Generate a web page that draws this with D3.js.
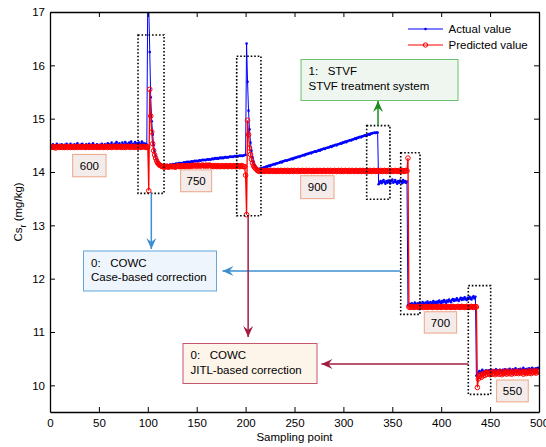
<!DOCTYPE html>
<html><head><meta charset="utf-8">
<script src="https://cdn.jsdelivr.net/npm/d3@7"></script>
<style>
body{margin:0;background:#fff}
text{font-family:Arial,"Liberation Sans",sans-serif;fill:#000}
</style>
</head><body>
<svg id="chart" width="546" height="447"></svg>
<script>
// ---------- DATA ----------
const xTicks = [0,50,100,150,200,250,300,350,400,450,500];
const yTicks = [10,11,12,13,14,15,16,17];
const seriesNames = ["Actual value","Predicted value"];
const levelLabels = ["600","750","900","700","550"];
const annotationTexts = [
  ["1:\u00a0\u00a0 STVF","STVF treatment system"],
  ["0:\u00a0\u00a0 COWC","Case-based correction"],
  ["0:\u00a0\u00a0 COWC","JITL-based correction"]
];

// sampling points 1..500
const actual = [
14.49,14.46,14.52,14.44,14.50,14.47,14.53,14.45,14.49,14.51,
14.46,14.52,14.48,14.44,14.51,14.47,14.53,14.49,14.45,14.50,
14.53,14.47,14.44,14.50,14.52,14.46,14.49,14.54,14.47,14.45,
14.51,14.48,14.53,14.46,14.50,14.44,14.52,14.49,14.47,14.53,
14.48,14.45,14.51,14.54,14.47,14.50,14.46,14.52,14.49,14.45,
14.51,14.47,14.53,14.48,14.45,14.52,14.50,14.47,14.54,14.49,
14.52,14.48,14.55,14.50,14.47,14.53,14.51,14.56,14.49,14.52,
14.54,14.50,14.47,14.55,14.52,14.49,14.56,14.51,14.53,14.48,
14.55,14.52,14.57,14.50,14.53,14.49,14.56,14.52,14.54,14.51,
14.55,14.50,14.53,14.57,14.51,14.54,14.49,14.53,14.51,
17.40,17.10,16.25,15.40,14.95,14.70,14.50,14.38,14.30,14.24,14.19,14.15,14.13,14.12,14.11,14.10,
14.11,14.12,14.11,14.12,14.13,14.12,14.13,14.14,14.13,14.14,
14.15,14.14,14.15,14.16,14.15,14.16,14.17,14.16,14.17,14.16,
14.17,14.18,14.17,14.18,14.19,14.18,14.19,14.18,14.19,14.20,
14.19,14.20,14.21,14.20,14.21,14.20,14.21,14.22,14.21,14.22,
14.23,14.22,14.23,14.22,14.23,14.24,14.23,14.24,14.23,14.24,
14.25,14.24,14.25,14.26,14.25,14.26,14.25,14.26,14.27,14.26,
14.27,14.26,14.27,14.28,14.27,14.28,14.27,14.28,14.29,14.28,
14.29,14.28,14.29,14.30,14.29,14.30,14.29,14.30,14.31,14.30,
14.31,14.30,14.31,14.32,
14.32,16.41,15.69,15.15,14.80,14.55,14.40,14.28,14.20,14.14,14.10,14.07,14.05,
14.05,14.06,14.06,14.07,14.07,14.08,14.09,14.09,14.10,14.10,
14.11,14.12,14.11,14.13,14.13,14.14,14.15,14.14,14.16,14.16,
14.17,14.17,14.18,14.19,14.18,14.20,14.20,14.21,14.22,14.21,
14.22,14.23,14.23,14.24,14.25,14.24,14.26,14.26,14.27,14.27,
14.28,14.29,14.28,14.30,14.30,14.31,14.32,14.31,14.33,14.33,
14.34,14.34,14.35,14.36,14.35,14.37,14.37,14.38,14.39,14.38,
14.39,14.40,14.41,14.40,14.42,14.42,14.43,14.44,14.43,14.45,
14.45,14.46,14.46,14.47,14.48,14.47,14.49,14.49,14.50,14.51,
14.50,14.52,14.52,14.53,14.54,14.53,14.55,14.55,14.56,14.57,
14.56,14.58,14.58,14.59,14.60,14.59,14.61,14.61,14.62,14.63,
14.62,14.64,14.64,14.65,14.66,14.65,14.67,14.67,14.68,14.69,
14.68,14.69,14.70,14.71,14.70,14.72,14.72,14.73,14.73,14.74,
14.73,14.74,14.74,
13.77,13.80,13.83,13.79,13.82,13.85,13.81,13.78,13.83,13.80,
13.84,13.81,13.79,13.83,13.86,13.80,13.82,13.85,13.81,13.78,
13.83,13.80,13.84,13.82,13.79,13.85,13.81,13.83,13.80,13.82,
11.50,
11.50,11.53,11.51,11.54,11.52,11.50,11.55,11.53,11.51,11.54,
11.52,11.55,11.53,11.51,11.56,11.54,11.52,11.55,11.53,11.57,
11.54,11.52,11.56,11.53,11.55,11.58,11.54,11.56,11.53,11.57,
11.55,11.59,11.56,11.54,11.58,11.56,11.60,11.57,11.55,11.59,
11.57,11.61,11.58,11.56,11.60,11.62,11.58,11.61,11.59,11.63,
11.60,11.58,11.62,11.64,11.60,11.63,11.61,11.65,11.62,11.60,
11.64,11.62,11.66,11.63,11.61,11.65,11.67,11.63,11.66,
10.18,
10.20,10.24,10.27,10.23,10.26,10.29,10.24,10.27,10.25,10.28,
10.26,10.23,10.28,10.25,10.29,10.26,10.24,10.28,10.27,10.30,
10.25,10.28,10.26,10.29,10.27,10.24,10.29,10.26,10.30,10.28,
10.26,10.29,10.27,10.31,10.28,10.25,10.30,10.27,10.29,10.32,
10.28,10.26,10.30,10.28,10.31,10.27,10.29,10.33,10.28,10.30,
10.27,10.31,10.29,10.32,10.28,10.30,10.33,10.29,10.31,10.28,
10.32,10.30,10.33,10.31
];

const predicted = [
14.46,14.47,14.48,14.46,14.47,14.45,14.47,14.48,14.47,14.46,
14.47,14.48,14.46,14.47,14.46,14.48,14.47,14.46,14.48,14.47,
14.46,14.47,14.48,14.47,14.46,14.47,14.48,14.46,14.47,14.47,
14.48,14.46,14.47,14.48,14.47,14.46,14.47,14.48,14.47,14.46,
14.47,14.48,14.47,14.46,14.48,14.47,14.47,14.46,14.48,14.47,
14.46,14.48,14.47,14.47,14.46,14.48,14.47,14.48,14.46,14.47,
14.48,14.47,14.46,14.48,14.47,14.48,14.47,14.46,14.48,14.47,
14.47,14.48,14.46,14.47,14.48,14.47,14.46,14.48,14.47,14.48,
14.47,14.46,14.48,14.47,14.48,14.46,14.47,14.48,14.47,14.46,
14.48,14.47,14.46,14.48,14.47,14.48,14.47,14.46,14.47,
14.47,13.65,15.55,15.05,14.75,14.53,14.40,14.32,14.26,14.21,14.17,14.15,14.13,14.12,14.11,14.10,
14.10,14.09,14.10,14.11,14.10,14.09,14.10,14.11,14.10,14.10,
14.11,14.10,14.09,14.10,14.11,14.12,14.10,14.11,14.10,14.11,
14.12,14.11,14.10,14.11,14.12,14.11,14.10,14.12,14.11,14.12,
14.11,14.12,14.13,14.11,14.12,14.11,14.13,14.12,14.11,14.12,
14.13,14.12,14.11,14.12,14.13,14.11,14.12,14.13,14.12,14.11,
14.12,14.10,14.11,14.12,14.11,14.10,14.12,14.11,14.10,14.11,
14.12,14.11,14.10,14.11,14.12,14.11,14.10,14.11,14.12,14.11,
14.10,14.11,14.12,14.11,14.10,14.11,14.12,14.11,14.10,14.11,
14.12,14.11,14.10,
14.10,13.94,13.20,14.97,14.70,14.45,14.33,14.24,14.17,14.12,14.09,14.07,14.05,
14.03,14.02,14.01,14.03,14.02,14.01,14.02,14.03,14.01,14.02,
14.03,14.02,14.01,14.02,14.03,14.02,14.01,14.03,14.02,14.01,
14.02,14.03,14.01,14.02,14.03,14.02,14.01,14.02,14.03,14.02,
14.01,14.03,14.02,14.01,14.02,14.03,14.02,14.01,14.03,14.02,
14.02,14.01,14.03,14.02,14.01,14.02,14.03,14.02,14.01,14.02,
14.03,14.01,14.02,14.03,14.02,14.01,14.02,14.03,14.01,14.02,
14.02,14.03,14.01,14.02,14.03,14.02,14.01,14.02,14.03,14.02,
14.01,14.02,14.03,14.02,14.01,14.03,14.02,14.01,14.02,14.03,
14.02,14.01,14.02,14.03,14.02,14.01,14.03,14.02,14.01,14.02,
14.03,14.02,14.01,14.02,14.03,14.01,14.02,14.03,14.02,14.01,
14.02,14.03,14.02,14.01,14.02,14.03,14.01,14.02,14.03,14.02,
14.01,14.02,14.03,14.02,14.01,14.03,14.02,14.01,14.02,14.03,
14.02,14.01,14.02,14.03,14.02,14.01,14.03,14.02,14.01,14.02,
14.03,14.02,14.01,14.02,14.03,14.02,14.01,14.03,14.02,14.01,
14.02,14.03,14.02,14.01,14.02,14.03,14.01,14.02,14.03,14.02,
14.01,14.02,14.03,14.02,
14.26,
11.47,11.46,11.47,11.48,11.47,11.46,11.47,11.47,11.48,11.47,
11.46,11.47,11.48,11.47,11.47,11.46,11.47,11.48,11.47,11.46,
11.47,11.47,11.48,11.47,11.46,11.47,11.48,11.47,11.47,11.46,
11.47,11.48,11.47,11.46,11.47,11.47,11.48,11.47,11.46,11.47,
11.48,11.47,11.47,11.46,11.47,11.48,11.47,11.46,11.47,11.47,
11.48,11.47,11.46,11.47,11.48,11.47,11.47,11.46,11.47,11.48,
11.47,11.46,11.47,11.47,11.48,11.47,11.46,11.47,11.48,11.47,
9.96,
10.12,10.17,10.20,10.15,10.21,10.18,10.23,10.19,10.24,10.21,
10.25,10.22,10.20,10.24,10.21,10.26,10.23,10.20,10.25,10.22,
10.24,10.21,10.26,10.23,10.20,10.25,10.22,10.24,10.27,10.21,
10.23,10.26,10.22,10.25,10.21,10.24,10.27,10.22,10.25,10.23,
10.26,10.22,10.24,10.27,10.23,10.25,10.21,10.26,10.24,10.22,
10.25,10.27,10.23,10.26,10.22,10.25,10.28,10.24,10.26,10.23,
10.27,10.25,10.26
];

// ---------- CHART ----------
const svg = d3.select("#chart");
const L = 50, R = 539, T = 12, B = 412;
const x = d3.scaleLinear().domain([0,500]).range([L,R]);
const y = d3.scaleLinear().domain([9.5,17]).range([B,T]);
const FS = 11.5;

svg.append("defs").append("clipPath").attr("id","clip")
  .append("rect").attr("x",L).attr("y",T).attr("width",R-L).attr("height",B-T);

const actPts = actual.map((v,i)=>[i+1,v]);
const prePts = predicted.map((v,i)=>[i+1,v]);
const line = d3.line().x(d=>x(d[0])).y(d=>y(d[1]));

const g = svg.append("g").attr("clip-path","url(#clip)");
g.append("path").datum(actPts).attr("d",line)
  .attr("fill","none").attr("stroke","#0000ff").attr("stroke-width",1);
g.append("g").selectAll("circle").data(actPts).join("circle")
  .attr("cx",d=>x(d[0])).attr("cy",d=>y(d[1])).attr("r",1.3).attr("fill","#0000ff");
g.append("path").datum(prePts).attr("d",line)
  .attr("fill","none").attr("stroke","#ff0000").attr("stroke-width",1.3);
g.append("g").selectAll("circle").data(prePts).join("circle")
  .attr("cx",d=>x(d[0])).attr("cy",d=>y(d[1])).attr("r",2.3)
  .attr("fill","none").attr("stroke","#ff0000").attr("stroke-width",1);

// axes (box with inward ticks)
const tick = 5;
const axB = svg.append("g").attr("transform",`translate(0,${B})`)
  .call(d3.axisBottom(x).tickValues(xTicks).tickSizeInner(-tick).tickSizeOuter(0).tickPadding(7));
const axT = svg.append("g").attr("transform",`translate(0,${T})`)
  .call(d3.axisTop(x).tickValues(xTicks).tickSizeInner(-tick).tickSizeOuter(0).tickFormat(""));
const axL = svg.append("g").attr("transform",`translate(${L},0)`)
  .call(d3.axisLeft(y).tickValues(yTicks).tickSizeInner(-tick).tickSizeOuter(0).tickPadding(5));
const axR = svg.append("g").attr("transform",`translate(${R},0)`)
  .call(d3.axisRight(y).tickValues(yTicks).tickSizeInner(-tick).tickSizeOuter(0).tickFormat(""));
[axB,axT,axL,axR].forEach(a=>{
  a.select(".domain").attr("stroke","#000").attr("stroke-width",1.3);
  a.selectAll(".tick line").attr("stroke","#000").attr("stroke-width",1);
  a.selectAll("text").attr("font-size",FS).attr("font-family","Arial, 'Liberation Sans', sans-serif").attr("fill","#000");
});

// axis titles
svg.append("text").attr("x",(L+R)/2).attr("y",441).attr("text-anchor","middle")
  .attr("font-size",FS).text("Sampling point");
const yl = svg.append("text").attr("transform",`translate(21.5,${(T+B)/2}) rotate(-90)`)
  .attr("text-anchor","middle").attr("font-size",FS);
yl.append("tspan").text("Cs");
yl.append("tspan").attr("font-size",9).attr("dy",4).text("r");
yl.append("tspan").attr("dy",-4).text(" (mg/kg)");

// legend
const leg = svg.append("g");
[[0,29,"#0000ff"],[1,45,"#ff0000"]].forEach(([i,ly,c])=>{
  leg.append("line").attr("x1",408).attr("x2",443).attr("y1",ly).attr("y2",ly)
    .attr("stroke",c).attr("stroke-width",1);
  if(i===0) leg.append("circle").attr("cx",425.5).attr("cy",ly).attr("r",1.3).attr("fill",c);
  else leg.append("circle").attr("cx",425.5).attr("cy",ly).attr("r",2.2).attr("fill","none").attr("stroke",c);
  leg.append("text").attr("x",448.5).attr("y",ly+4).attr("font-size",FS).text(seriesNames[i]);
});

// dotted highlight rectangles (data coordinates)
const hiRects = [[90,116.6,16.57,13.6],[190.9,215.7,16.17,13.18],[323.8,347.6,14.87,13.49],
                 [358.6,378.3,14.36,11.33],[427.7,450.6,11.87,9.83]];
svg.append("g").selectAll("rect").data(hiRects).join("rect")
  .attr("x",d=>x(d[0])).attr("y",d=>y(d[2]))
  .attr("width",d=>x(d[1])-x(d[0])).attr("height",d=>y(d[3])-y(d[2]))
  .attr("fill","none").attr("stroke","#000").attr("stroke-width",1.6).attr("stroke-dasharray","1.6,1.9");

// level label boxes (data coordinates)
const lvlPos = [[23.2,57.3,14.33,13.91],[133.6,165.3,14.04,13.63],[256.3,290.4,13.93,13.5],
                [382.7,415.8,11.38,10.98],[456.7,489,10.1,9.69]];
const lg = svg.append("g");
lvlPos.forEach((p,i)=>{
  lg.append("rect").attr("x",x(p[0])).attr("y",y(p[2])).attr("width",x(p[1])-x(p[0])).attr("height",y(p[3])-y(p[2]))
    .attr("fill","#f4ecea").attr("stroke","#eda586").attr("stroke-width",1);
  lg.append("text").attr("x",(x(p[0])+x(p[1]))/2).attr("y",(y(p[2])+y(p[3]))/2+4.2)
    .attr("text-anchor","middle").attr("font-size",FS).text(levelLabels[i]);
});

// arrows
function arrow(x1,y1,x2,y2,color){
  svg.append("line").attr("x1",x1).attr("y1",y1).attr("x2",x2).attr("y2",y2)
    .attr("stroke",color).attr("stroke-width",1.5);
  const a = Math.atan2(y2-y1,x2-x1), len=11, w=5, notch=7;
  const p = (d,s)=>[x2 - d*Math.cos(a) - s*Math.sin(a), y2 - d*Math.sin(a) + s*Math.cos(a)];
  const pts=[[x2,y2],p(len,w),p(notch,0),p(len,-w)];
  svg.append("path").attr("d","M"+pts.map(q=>q.join(",")).join("L")+"Z").attr("fill",color);
}
const cBlue="#3d8fd1", cRed="#a31d42", cGreen="#1f8a1f";
arrow(x(103.6),y(13.6),x(103.6),249,cBlue);
arrow(x(358.6),271,222.5,271,cBlue);
arrow(x(202.6),y(13.18),x(202.6),337,cRed);
arrow(x(427.7),364,321.5,364,cRed);
arrow(x(335.4),y(14.87),x(335.4),101,cGreen);

// annotation boxes
const boxes = [
  {x:301,y:59.5,w:157,h:41,fill:"#eff6ef",stroke:"#6cbf6c"},
  {x:83.5,y:251,w:133,h:40,fill:"#eff5fc",stroke:"#63a7dc"},
  {x:183,y:343.5,w:134,h:40,fill:"#fdf4ea",stroke:"#c4566f"}
];
boxes.forEach((b,i)=>{
  svg.append("rect").attr("x",b.x).attr("y",b.y).attr("width",b.w).attr("height",b.h)
    .attr("fill",b.fill).attr("stroke",b.stroke).attr("stroke-width",1);
  svg.append("text").attr("x",b.x+7.5).attr("y",b.y+15.5).attr("font-size",FS).text(annotationTexts[i][0]);
  svg.append("text").attr("x",b.x+7.5).attr("y",b.y+30).attr("font-size",FS).text(annotationTexts[i][1]);
});
</script>
</body></html>
